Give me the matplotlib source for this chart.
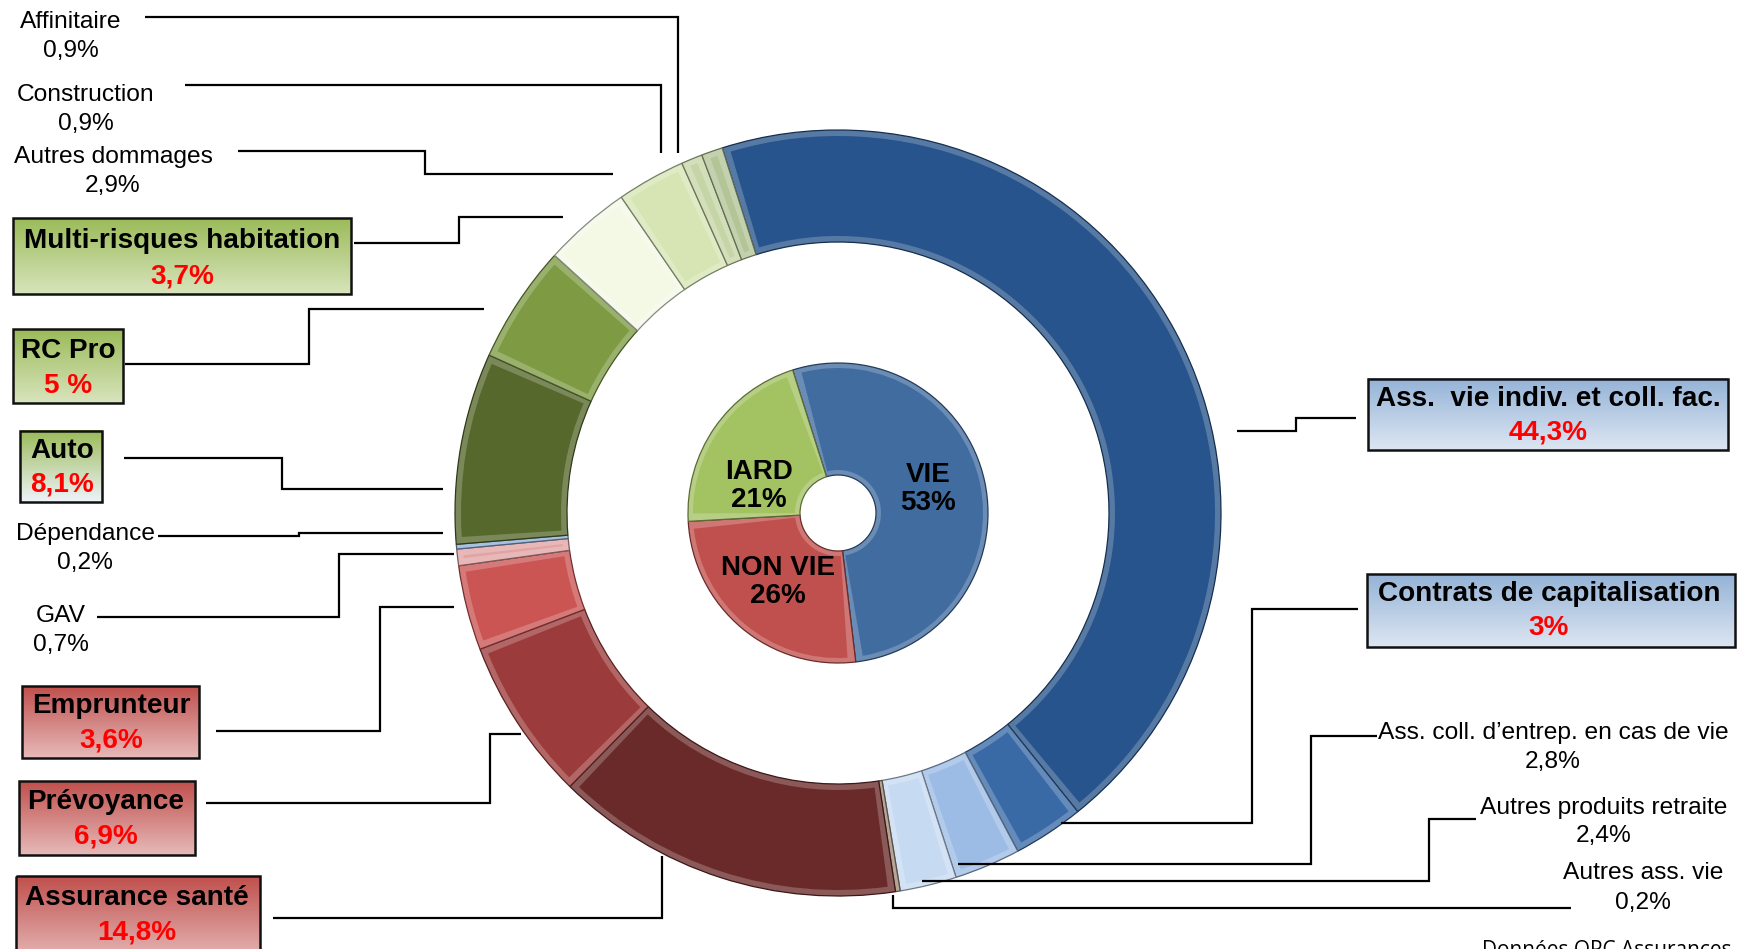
import numpy as np
import matplotlib
matplotlib.use('Agg')
import matplotlib.pyplot as plt
from matplotlib import font_manager
from matplotlib.colors import to_rgb
from matplotlib.patches import Wedge, Rectangle

W, H = 1737, 949

# inner ring: the three branches
branches = ['VIE', 'NON VIE', 'IARD']
branch_share = [53, 26, 21]
branch_colors = ['#416CA0', '#C0504D', '#A3C262']

# outer ring: lines of business, in the same order as the branches
lines = ['Ass.  vie indiv. et coll. fac.', 'Contrats de capitalisation',
         'Ass. coll. d\u2019entrep. en cas de vie', 'Autres produits retraite',
         'Autres ass. vie',
         'Assurance santé', 'Prévoyance', 'Emprunteur', 'GAV', 'Dépendance',
         'Auto', 'RC Pro', 'Multi-risques habitation', 'Autres dommages',
         'Construction', 'Affinitaire']
line_share = [44.3, 3, 2.8, 2.4, 0.2,
              14.8, 6.9, 3.6, 0.7, 0.2,
              8.1, 5, 3.7, 2.9, 0.9, 0.9]
line_colors = ['#27548C', '#3A6AA6', '#9DBCE5', '#C6DAF1', '#A08C78',
               '#6B2A2A', '#9C3B3B', '#CB5553', '#E2A3A3', '#8EAFD9',
               '#56682C', '#7E9B44', '#F4F9E6', '#D6E5B3', '#C6D5A6', '#B3C497']
pct_sep = {'RC Pro': ' '}

CENTER = (838, 513)
START = -107.6          # y axis runs downward, so this is 17.6 deg left of 12 o'clock

# callouts: style, (text x, line-1 y, line-2 y), box, leader line
callouts = [
    ('blue', (1548, 399, 432), (1368, 379, 1728, 450),
     [(1237, 431), (1296, 431), (1296, 418), (1356, 418)]),
    ('blue', (1549, 594, 628), (1367, 574, 1735, 647),
     [(1061, 823), (1252, 823), (1252, 609), (1358, 609)]),
    ('plain', (1553, 733, 762), None,
     [(958, 864), (1311, 864), (1311, 736), (1377, 736)]),
    ('plain', (1604, 808, 836), None,
     [(922, 881), (1429, 881), (1429, 819), (1476, 819)]),
    ('plain', (1643, 873, 903), None,
     [(893, 895), (893, 908), (1571, 908)]),
    ('red', (137, 898, 933), (16, 876, 260, 962),
     [(273, 918), (662, 918), (662, 856)]),
    ('red', (106, 802, 836), (19, 781, 195, 855),
     [(206, 803), (490, 803), (490, 734), (521, 734)]),
    ('red', (111, 706, 740), (22, 686, 199, 758),
     [(216, 731), (380, 731), (380, 607), (454, 607)]),
    ('plain', (61, 616, 645), None,
     [(97, 617), (339, 617), (339, 554), (454, 554)]),
    ('plain', (85, 534, 563), None,
     [(158, 536), (299, 536), (299, 533), (443, 533)]),
    ('auto', (62, 451, 484), (20, 431, 102, 502),
     [(124, 458), (282, 458), (282, 489), (443, 489)]),
    ('green', (68, 351, 386), (13, 329, 123, 403),
     [(125, 364), (309, 364), (309, 309), (484, 309)]),
    ('green', (182, 241, 276), (13, 218, 351, 294),
     [(354, 243), (459, 243), (459, 217), (563, 217)]),
    ('plain', (113, 157, 186), None,
     [(238, 151), (425, 151), (425, 174), (613, 174)]),
    ('plain', (86, 95, 124), None,
     [(185, 85), (661, 85), (661, 153)]),
    ('plain', (71, 22, 51), None,
     [(145, 17), (678, 17), (678, 153)]),
]

gradients = {
    'blue': ('#95B3D7', '#DCE6F2'),
    'red': ('#C0504D', '#E6B9B8'),
    'green': ('#9BBB59', '#D8E4BC'),
    'auto': ('#9BBB59', '#EEF3F9'),
}

installed = {f.name for f in font_manager.fontManager.ttflist}
if 'Liberation Sans Narrow' in installed:
    NARROW, k = 'Liberation Sans Narrow', 1.0
else:
    NARROW, k = 'Liberation Sans', 0.82


def mix(c, other, t):
    a = np.array(to_rgb(c))
    b = np.array(to_rgb(other))
    return tuple(a * (1 - t) + b * t)


def pct(name, v):
    return f'{v:g}'.replace('.', ',') + pct_sep.get(name, '') + '%'


fig = plt.figure(figsize=(W / 100, H / 100), dpi=100)
ax = fig.add_axes([0, 0, 1, 1])


def bevel_ring(values, colors, radius, width, inset):
    # light rim + darker seam, then the flat face inset inside it
    wedges, _ = ax.pie(values, radius=radius, center=CENTER, startangle=START,
                       counterclock=True,
                       colors=[mix(c, 'white', 0.22) for c in colors],
                       wedgeprops=dict(width=width, linewidth=0.9))
    mid = radius - width / 2
    dt = np.degrees(inset / mid)
    for w, c in zip(wedges, colors):
        w.set_edgecolor(mix(c, 'black', 0.45))
        if w.theta2 - w.theta1 > 2 * dt + 0.3:
            ax.add_patch(Wedge(CENTER, radius - inset, w.theta1 + dt, w.theta2 - dt,
                               width=width - 2 * inset, facecolor=c,
                               edgecolor='none', zorder=1.1))
    return wedges


bevel_ring(line_share, line_colors, 383, 112, 6)
bevel_ring(branch_share, branch_colors, 150, 112, 5)

# branch labels inside the small donut
branch_pos = [(928, 489), (778, 582), (759, 486)]
for name, v, (x, y) in zip(branches, branch_share, branch_pos):
    ax.text(x, y, f'{name}\n{v}%', ha='center', va='center', fontsize=20,
            fontweight='bold', family='Liberation Sans', linespacing=1.1,
            zorder=5)

# callouts
for name, v, (style, (tx, y1, y2), box, path) in zip(lines, line_share, callouts):
    xs, ys = zip(*path)
    ax.plot(xs, ys, color='black', lw=1.6, solid_joinstyle='miter',
            solid_capstyle='butt', zorder=3)
    if box is None:
        ax.text(tx, y1, name, ha='center', va='center', fontsize=21.5 * k,
                family=NARROW, zorder=5)
        ax.text(tx, y2, pct(name, v), ha='center', va='center',
                fontsize=21.5 * k, family=NARROW, zorder=5)
        continue
    x0, y0, x1, yb = box
    top, bottom = gradients[style]
    t = np.linspace(0, 1, 64)[:, None, None]
    grad = np.array(to_rgb(top)) * (1 - t) + np.array(to_rgb(bottom)) * t
    ax.imshow(grad, extent=(x0, x1, yb, y0), origin='upper', aspect='auto',
              interpolation='bilinear', zorder=2)
    ax.add_patch(Rectangle((x0, y0), x1 - x0, yb - y0, facecolor='none',
                           edgecolor='#111111', lw=1.8, zorder=3))
    ax.text(tx, y1, name, ha='center', va='center', fontsize=24.5 * k,
            fontweight='bold', family=NARROW, zorder=5)
    ax.text(tx, y2, pct(name, v), ha='center', va='center', fontsize=24.5 * k,
            fontweight='bold', family=NARROW, color='#FF0000', zorder=5)

# source line, partly below the bottom edge
ax.text(1482, 940, 'Données OPC Assurances 20', ha='left', va='top',
        fontsize=15, family='Open Sans', zorder=5)

ax.set_xlim(0, W)
ax.set_ylim(H, 0)
ax.set_aspect('equal')
ax.axis('off')

fig.savefig('out.png', dpi=100, facecolor='white')
